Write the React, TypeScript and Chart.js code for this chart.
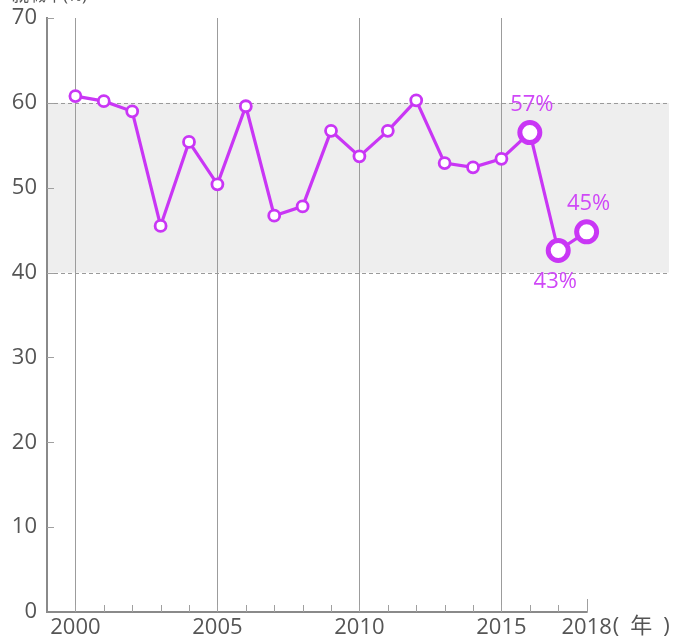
import React, { useEffect, useRef } from 'react';
import Chart from 'chart.js/auto';

const years = [2000, 2001, 2002, 2003, 2004, 2005, 2006, 2007, 2008, 2009, 2010, 2011, 2012, 2013, 2014, 2015, 2016, 2017, 2018];
const values = [60.8, 60.2, 59.0, 45.5, 55.4, 50.4, 59.6, 46.7, 47.8, 56.7, 53.7, 56.7, 60.3, 52.9, 52.4, 53.4, 56.5, 42.6, 44.8];
const labeledYears = [2000, 2005, 2010, 2015, 2018];
const gridYears = [2000, 2005, 2010, 2015];
const bandRange = [40, 60];
const highlightYears = [2016, 2017, 2018];
const highlightLabels = ['57%', '43%', '45%'];
const highlightAbove = [true, false, true];
const yTitle = '就職率(%)';
const xUnit = '(\u2002年\u2002)';

const LINE = '#c936f5';
const TEXT_PURPLE = '#cf48f7';
const AXIS = '#8a8a8a';
const GRID = '#9c9c9c';
const LABEL = '#555555';
const FONT = "'Open Sans', 'Noto Sans CJK JP', sans-serif";

const decorPlugin = {
  id: 'decor',
  beforeDraw(chart: any) {
    const { ctx, chartArea } = chart;
    const y = chart.scales.y;
    const yTop = y.getPixelForValue(bandRange[1]);
    const yBot = y.getPixelForValue(bandRange[0]);
    ctx.save();
    ctx.fillStyle = '#eeeeee';
    ctx.fillRect(chartArea.left, yTop, chartArea.right - chartArea.left, yBot - yTop);
    ctx.strokeStyle = '#9a9a9a';
    ctx.lineWidth = 1;
    ctx.setLineDash([4, 3]);
    [yTop, yBot].forEach((py) => {
      ctx.beginPath();
      ctx.moveTo(chartArea.left, Math.round(py) + 0.5);
      ctx.lineTo(chartArea.right, Math.round(py) + 0.5);
      ctx.stroke();
    });
    ctx.restore();
  },
  beforeDatasetsDraw(chart: any) {
    const { ctx, chartArea } = chart;
    const x = chart.scales.x;
    const y = chart.scales.y;
    const lastYear = years[years.length - 1];
    const bottom = chartArea.bottom;
    ctx.save();
    ctx.strokeStyle = AXIS;
    ctx.lineWidth = 2;
    ctx.beginPath();
    ctx.moveTo(chartArea.left - 1, bottom);
    ctx.lineTo(x.getPixelForValue(lastYear) + 1, bottom);
    ctx.stroke();
    ctx.lineWidth = 1;
    ctx.strokeStyle = '#a0a0a0';
    years.forEach((yr) => {
      const px = Math.round(x.getPixelForValue(yr)) + 0.5;
      const len = yr === lastYear ? 13 : 7;
      ctx.beginPath();
      ctx.moveTo(px, bottom);
      ctx.lineTo(px, bottom - len);
      ctx.stroke();
    });
    for (let v = 10; v <= 70; v += 10) {
      const py = Math.round(y.getPixelForValue(v)) + 0.5;
      ctx.beginPath();
      ctx.moveTo(chartArea.left, py);
      ctx.lineTo(chartArea.left + 7, py);
      ctx.stroke();
    }
    ctx.restore();
  },
  afterDatasetsDraw(chart: any) {
    const { ctx } = chart;
    const meta = chart.getDatasetMeta(0);
    ctx.save();
    ctx.fillStyle = TEXT_PURPLE;
    ctx.font = `22px ${FONT}`;
    ctx.textAlign = 'center';
    ctx.textBaseline = 'middle';
    highlightYears.forEach((yr, i) => {
      const idx = years.indexOf(yr);
      const el = meta.data[idx];
      const dy = highlightAbove[i] ? -28 : 31;
      ctx.fillText(highlightLabels[i], el.x + (highlightAbove[i] ? 2 : -3), el.y + dy);
    });
    ctx.restore();
  },
  afterDraw(chart: any) {
    const { ctx } = chart;
    const x = chart.scales.x;
    const lastYear = years[years.length - 1];
    ctx.save();
    ctx.fillStyle = LABEL;
    ctx.font = `22px ${FONT}`;
    ctx.textBaseline = 'middle';
    ctx.textAlign = 'left';
    const w = ctx.measureText(String(lastYear)).width;
    ctx.fillText(xUnit, x.getPixelForValue(lastYear) + w / 2 + 1, 627);
    ctx.font = `17px ${FONT}`;
    ctx.textBaseline = 'bottom';
    ctx.fillText(yTitle, 12, 5);
    ctx.restore();
  },
};

export default function App() {
  const ref = useRef<HTMLCanvasElement>(null);
  useEffect(() => {
    if (!ref.current) return;
    const chart = new Chart(ref.current, {
      type: 'line',
      data: {
        datasets: [
          {
            data: years.map((yr, i) => ({ x: yr, y: values[i] })),
            borderColor: LINE,
            borderWidth: 3.2,
            backgroundColor: '#ffffff',
            pointBackgroundColor: '#ffffff',
            pointBorderColor: LINE,
            pointRadius: years.map((yr) => (highlightYears.includes(yr) ? 10 : 5.5)),
            pointBorderWidth: years.map((yr) => (highlightYears.includes(yr) ? 5 : 2.8)),
            tension: 0,
            clip: false as any,
          },
        ],
      },
      options: {
        animation: false,
        responsive: false,
        events: [],
        layout: { padding: { top: 18, right: 14, left: 0, bottom: 0 } },
        plugins: { legend: { display: false }, tooltip: { enabled: false } },
        scales: {
          x: {
            type: 'linear',
            min: 1999,
            max: 2020.9,
            afterFit: (s: any) => {
              s.height = 27;
              s.paddingLeft = 0;
              s.paddingRight = 0;
            },
            afterBuildTicks: (s: any) => {
              s.ticks = [];
              for (let v = 1999; v <= 2020; v++) s.ticks.push({ value: v });
            },
            ticks: {
              autoSkip: false,
              maxRotation: 0,
              padding: 3,
              color: LABEL,
              font: { family: FONT, size: 22 },
              callback: (v: any) => (labeledYears.includes(Number(v)) ? String(v) : ''),
            },
            grid: {
              drawTicks: false,
              color: (c: any) => (c.tick && gridYears.includes(c.tick.value) ? GRID : 'rgba(0,0,0,0)'),
              lineWidth: 1,
            },
            border: { display: false },
          },
          y: {
            min: 0,
            max: 70,
            afterFit: (s: any) => {
              s.width = 47;
              s.paddingTop = 0;
              s.paddingBottom = 0;
            },
            ticks: {
              stepSize: 10,
              padding: 10,
              color: LABEL,
              font: { family: FONT, size: 22 },
            },
            grid: { display: false, drawTicks: false },
            border: { display: true, color: AXIS, width: 2 },
          },
        },
      },
      plugins: [decorPlugin],
    });
    return () => chart.destroy();
  }, []);
  return (
    <div style={{ position: 'fixed', left: 0, top: 0, width: 684, height: 639 }}>
      <canvas ref={ref} width={684} height={639} />
    </div>
  );
}
